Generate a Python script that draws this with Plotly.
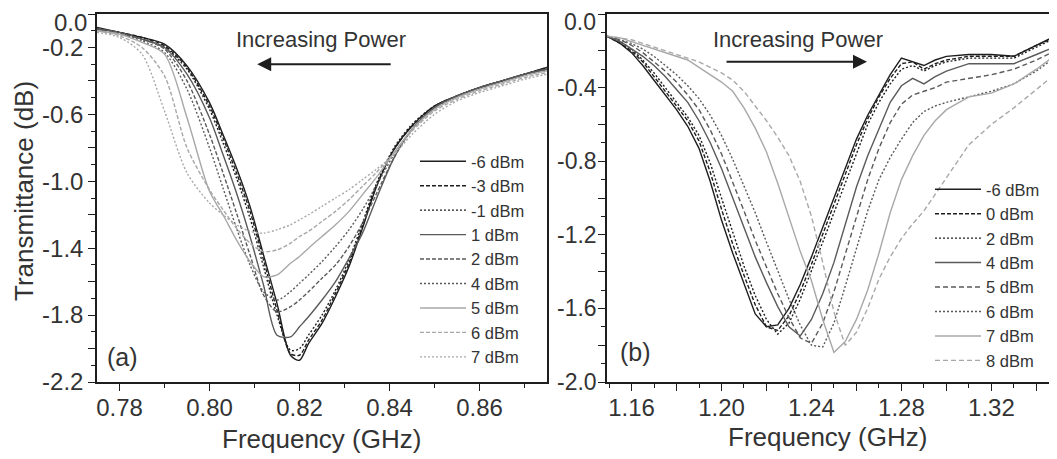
import plotly.graph_objects as go

# ---------------- data: panel (a) ----------------
freq_a = [0.775, 0.780, 0.785, 0.790, 0.795, 0.800, 0.803, 0.806, 0.809, 0.812, 0.815, 0.818, 0.820,
          0.822, 0.825, 0.828, 0.831, 0.834, 0.837, 0.841, 0.845, 0.850, 0.855, 0.860, 0.865, 0.870, 0.875]

a_m6 = [-0.08, -0.11, -0.14, -0.18, -0.31, -0.53, -0.72, -0.92, -1.15, -1.44, -1.73, -2.04, -2.07,
        -1.97, -1.85, -1.69, -1.51, -1.28, -1.04, -0.81, -0.67, -0.55, -0.49, -0.44, -0.40, -0.36, -0.32]
a_m3 = [-0.09, -0.11, -0.14, -0.19, -0.32, -0.55, -0.74, -0.95, -1.18, -1.47, -1.77, -2.03, -2.04,
        -1.95, -1.83, -1.67, -1.49, -1.27, -1.03, -0.81, -0.67, -0.55, -0.49, -0.44, -0.40, -0.36, -0.32]
a_m1 = [-0.09, -0.11, -0.15, -0.20, -0.33, -0.57, -0.77, -0.98, -1.22, -1.51, -1.80, -2.01, -2.00,
        -1.92, -1.80, -1.65, -1.47, -1.25, -1.02, -0.80, -0.66, -0.55, -0.49, -0.44, -0.40, -0.36, -0.33]
a_p1 = [-0.09, -0.11, -0.15, -0.20, -0.36, -0.62, -0.84, -1.07, -1.33, -1.62, -1.92, -1.93, -1.87,
        -1.81, -1.71, -1.60, -1.46, -1.31, -1.11, -0.86, -0.69, -0.56, -0.49, -0.44, -0.40, -0.36, -0.33]
a_p2 = [-0.09, -0.12, -0.15, -0.21, -0.40, -0.72, -0.95, -1.19, -1.44, -1.68, -1.78, -1.75, -1.71,
        -1.66, -1.58, -1.50, -1.39, -1.25, -1.08, -0.86, -0.69, -0.56, -0.49, -0.44, -0.40, -0.36, -0.33]
a_p4 = [-0.09, -0.12, -0.16, -0.23, -0.45, -0.80, -1.04, -1.28, -1.50, -1.66, -1.71, -1.66, -1.61,
        -1.56, -1.48, -1.39, -1.29, -1.17, -1.03, -0.84, -0.69, -0.56, -0.49, -0.44, -0.40, -0.36, -0.33]
a_p5 = [-0.10, -0.12, -0.17, -0.24, -0.62, -1.06, -1.20, -1.35, -1.48, -1.57, -1.56, -1.49, -1.45,
        -1.40, -1.33, -1.26, -1.18, -1.08, -0.98, -0.83, -0.69, -0.57, -0.50, -0.45, -0.41, -0.37, -0.34]
a_p6 = [-0.10, -0.13, -0.20, -0.37, -0.80, -1.05, -1.17, -1.28, -1.37, -1.42, -1.41, -1.37, -1.33,
        -1.30, -1.24, -1.18, -1.11, -1.03, -0.95, -0.83, -0.70, -0.58, -0.51, -0.46, -0.42, -0.38, -0.35]
a_p7 = [-0.11, -0.14, -0.24, -0.58, -0.95, -1.13, -1.20, -1.26, -1.30, -1.31, -1.29, -1.26, -1.23,
        -1.20, -1.15, -1.10, -1.05, -0.99, -0.93, -0.84, -0.72, -0.60, -0.52, -0.47, -0.43, -0.39, -0.36]

# ---------------- data: panel (b) ----------------
freq_b = [1.149, 1.155, 1.160, 1.165, 1.170, 1.175, 1.180, 1.185, 1.190, 1.195, 1.200, 1.205,
          1.210, 1.215, 1.220, 1.225, 1.230, 1.235, 1.240, 1.245, 1.250, 1.255, 1.260, 1.265,
          1.270, 1.275, 1.280, 1.285, 1.290, 1.295, 1.300, 1.310, 1.320, 1.330, 1.340, 1.350]

b_m6 = [-0.12, -0.16, -0.21, -0.28, -0.36, -0.44, -0.52, -0.61, -0.73, -0.91, -1.12, -1.30,
        -1.47, -1.63, -1.70, -1.69, -1.60, -1.47, -1.32, -1.16, -1.00, -0.85, -0.68, -0.55,
        -0.44, -0.33, -0.24, -0.26, -0.28, -0.25, -0.23, -0.22, -0.22, -0.23, -0.17, -0.11]
b_p0 = [-0.12, -0.16, -0.20, -0.26, -0.34, -0.42, -0.50, -0.58, -0.69, -0.86, -1.06, -1.25,
        -1.42, -1.58, -1.70, -1.72, -1.64, -1.51, -1.36, -1.20, -1.04, -0.88, -0.71, -0.57,
        -0.45, -0.35, -0.27, -0.26, -0.30, -0.27, -0.25, -0.23, -0.23, -0.23, -0.17, -0.12]
b_p2 = [-0.12, -0.15, -0.19, -0.25, -0.32, -0.40, -0.48, -0.56, -0.66, -0.81, -1.00, -1.19,
        -1.37, -1.53, -1.66, -1.74, -1.68, -1.55, -1.40, -1.24, -1.08, -0.92, -0.75, -0.60,
        -0.48, -0.38, -0.30, -0.28, -0.31, -0.28, -0.26, -0.24, -0.24, -0.24, -0.18, -0.12]
b_p4 = [-0.12, -0.15, -0.19, -0.23, -0.28, -0.34, -0.41, -0.48, -0.58, -0.70, -0.84, -1.00,
        -1.17, -1.32, -1.46, -1.59, -1.70, -1.75, -1.66, -1.52, -1.35, -1.14, -0.94, -0.77,
        -0.62, -0.48, -0.39, -0.35, -0.38, -0.34, -0.31, -0.27, -0.27, -0.27, -0.22, -0.17]
b_p5 = [-0.12, -0.14, -0.17, -0.21, -0.26, -0.31, -0.37, -0.44, -0.52, -0.63, -0.76, -0.91,
        -1.07, -1.23, -1.38, -1.52, -1.65, -1.76, -1.79, -1.68, -1.51, -1.31, -1.10, -0.90,
        -0.73, -0.59, -0.49, -0.44, -0.42, -0.40, -0.37, -0.35, -0.33, -0.30, -0.25, -0.19]
b_p6 = [-0.12, -0.14, -0.16, -0.19, -0.23, -0.28, -0.33, -0.39, -0.46, -0.55, -0.66, -0.79,
        -0.93, -1.08, -1.24, -1.40, -1.55, -1.69, -1.80, -1.81, -1.68, -1.48, -1.27, -1.07,
        -0.90, -0.78, -0.68, -0.59, -0.53, -0.50, -0.48, -0.45, -0.42, -0.38, -0.31, -0.22]
b_p7 = [-0.12, -0.13, -0.15, -0.17, -0.19, -0.21, -0.23, -0.25, -0.29, -0.33, -0.37, -0.42,
        -0.51, -0.62, -0.75, -0.92, -1.11, -1.29, -1.45, -1.66, -1.84, -1.78, -1.66, -1.50,
        -1.30, -1.08, -0.90, -0.77, -0.66, -0.58, -0.52, -0.45, -0.43, -0.38, -0.30, -0.21]
b_p8 = [-0.12, -0.13, -0.14, -0.16, -0.18, -0.20, -0.22, -0.24, -0.26, -0.29, -0.32, -0.36,
        -0.42, -0.50, -0.58, -0.67, -0.77, -0.91, -1.10, -1.35, -1.62, -1.80, -1.73, -1.60,
        -1.44, -1.32, -1.22, -1.14, -1.07, -0.98, -0.89, -0.71, -0.60, -0.51, -0.41, -0.31]

# y tick labels; the top "0.0" label is written as a separate text so it is not cut at the page edge
ytick_a = [0, -0.2, -0.4, -0.6, -0.8, -1.0, -1.2, -1.4, -1.6, -1.8, -2.0, -2.2]
ytext_a = ['', '-0.2', '', '-0.6', '', '-1.0', '', '-1.4', '', '-1.8', '', '-2.2']
ytick_b = [0, -0.2, -0.4, -0.6, -0.8, -1.0, -1.2, -1.4, -1.6, -1.8, -2.0]
ytext_b = ['', '', '-0.4', '', '-0.8', '', '-1.2', '', '-1.6', '', '-2.0']
top_label = '0.0'

# ---------------- styles ----------------
BLACK = '#1e1e1e'
DARK = '#5a5a5a'
LIGHT = '#a8a8a8'
DASH = '4px,2px'
DOT = '2px,2px'

series_a = [('-6 dBm', a_m6, BLACK, 'solid'), ('-3 dBm', a_m3, BLACK, DASH), ('-1 dBm', a_m1, BLACK, DOT),
            ('1 dBm', a_p1, DARK, 'solid'), ('2 dBm', a_p2, DARK, DASH), ('4 dBm', a_p4, DARK, DOT),
            ('5 dBm', a_p5, LIGHT, 'solid'), ('6 dBm', a_p6, LIGHT, DASH), ('7 dBm', a_p7, LIGHT, DOT)]
series_b = [('-6 dBm', b_m6, BLACK, 'solid'), ('0 dBm', b_p0, BLACK, DASH), ('2 dBm', b_p2, BLACK, DOT),
            ('4 dBm', b_p4, DARK, 'solid'), ('5 dBm', b_p5, DARK, '5px,3px'), ('6 dBm', b_p6, DARK, DOT),
            ('7 dBm', b_p7, LIGHT, 'solid'), ('8 dBm', b_p8, LIGHT, '5px,3px')]

W, H = 1057, 459
OFF = 8  # page body margin, screen px -> figure px
FONT = 'Arial, Liberation Sans, sans-serif'
TXT = '#333333'


def px(x):
    return (x - OFF) / W


def py(y):
    return 1 - (y - OFF) / H


fig = go.Figure()

for name, vals, col, dash in series_a:
    fig.add_trace(go.Scatter(x=freq_a, y=vals, mode='lines', name=name, legend='legend',
                             line=dict(color=col, width=1.4, dash=dash, shape='spline', smoothing=0.8),
                             xaxis='x', yaxis='y'))
for name, vals, col, dash in series_b:
    fig.add_trace(go.Scatter(x=freq_b, y=vals, mode='lines', name=name, legend='legend2',
                             line=dict(color=col, width=1.4, dash=dash),
                             xaxis='x2', yaxis='y2'))

dom_a = [px(97), px(547)]
dom_b = [px(607), px(1058)]
dom_y = [py(382), py(14)]
rng_a = [0.775, 0.875]
rng_b = [1.1491, 1.3496]

axline = dict(showline=True, linecolor=BLACK, linewidth=1.5, showgrid=False, zeroline=False, automargin=False,
              ticklabeloverflow='allow', tickcolor=BLACK, tickwidth=1.3,
              tickfont=dict(size=24, color=TXT, family=FONT))
inner = dict(showline=False, showgrid=False, zeroline=False, showticklabels=False, automargin=False,
             ticks='inside', ticklen=7, tickcolor=BLACK, tickwidth=1.3)

fig.update_layout(
    template='none',
    width=W, height=H, margin=dict(l=0, r=0, t=0, b=0, pad=0),
    paper_bgcolor='white', plot_bgcolor='white',
    font=dict(family=FONT, color=TXT),
    xaxis=dict(axline, domain=dom_a, range=rng_a, anchor='y', mirror=True, ticks='outside', ticklen=7,
               tick0=0.78, dtick=0.02, tickformat='.2f', ticklabelstandoff=-4,
               minor=dict(ticks='outside', ticklen=4, dtick=0.01, tick0=0.78, tickcolor=BLACK)),
    yaxis=dict(axline, domain=dom_y, range=[-2.2, 0], anchor='x', mirror=True, ticks='outside', ticklen=7,
               tickmode='array', tickvals=ytick_a, ticktext=ytext_a,
               minor=dict(ticks='outside', ticklen=4, dtick=0.1, tick0=0, tickcolor=BLACK)),
    xaxis3=dict(inner, overlaying='x', side='top', anchor='y', range=rng_a,
                tick0=0.78, dtick=0.02, minor=dict(ticks='inside', ticklen=4, dtick=0.01, tick0=0.78)),
    yaxis3=dict(inner, overlaying='y', side='right', anchor='x', range=[-2.2, 0],
                tick0=0, dtick=0.2, minor=dict(ticks='inside', ticklen=4, dtick=0.1, tick0=0)),
    xaxis2=dict(axline, domain=dom_b, range=rng_b, anchor='y2', mirror=True, ticks='outside', ticklen=7,
                tick0=1.16, dtick=0.02, ticklabelstep=2, tickformat='.2f', ticklabelstandoff=-4,
                minor=dict(ticks='outside', ticklen=4, dtick=0.01, tick0=1.16, tickcolor=BLACK)),
    yaxis2=dict(axline, domain=dom_y, range=[-2.0, 0], anchor='x2', ticks='outside', ticklen=7,
                tickmode='array', tickvals=ytick_b, ticktext=ytext_b, ticklabelstandoff=-3,
                tickfont=dict(size=23, color=TXT, family=FONT),
                minor=dict(ticks='outside', ticklen=4, dtick=0.1, tick0=0, tickcolor=BLACK)),
    xaxis4=dict(inner, overlaying='x2', side='top', anchor='y2', range=rng_b,
                tick0=1.16, dtick=0.02, minor=dict(ticks='inside', ticklen=4, dtick=0.01, tick0=1.16)),
    yaxis4=dict(inner, overlaying='y2', side='right', anchor='x2', range=[-2.0, 0],
                tick0=0, dtick=0.2, minor=dict(ticks='inside', ticklen=4, dtick=0.1, tick0=0)),
    legend=dict(x=px(415), y=py(144), xanchor='left', yanchor='top', bgcolor='rgba(0,0,0,0)',
                font=dict(size=16.5, color=TXT, family=FONT), itemwidth=46, tracegroupgap=0),
    legend2=dict(x=px(930), y=py(172), xanchor='left', yanchor='top', bgcolor='rgba(0,0,0,0)',
                 font=dict(size=16.5, color=TXT, family=FONT), itemwidth=46, tracegroupgap=0),
)

ann = []
# top "0.0" tick labels, kept inside the page
ann.append(dict(text=top_label, x=px(88), y=1, xref='paper', yref='paper', xanchor='right', yanchor='top',
                showarrow=False, borderpad=0, font=dict(size=24, color=TXT)))
ann.append(dict(text=top_label, x=px(597), y=1, xref='paper', yref='paper', xanchor='right', yanchor='top',
                showarrow=False, borderpad=0, font=dict(size=23, color=TXT)))
# axis titles
ann.append(dict(text='Frequency (GHz)', x=px(321), y=py(439), xref='paper', yref='paper',
                xanchor='center', yanchor='middle', showarrow=False, font=dict(size=26, color=TXT)))
ann.append(dict(text='Frequency (GHz)', x=px(827), y=py(437), xref='paper', yref='paper',
                xanchor='center', yanchor='middle', showarrow=False, font=dict(size=26, color=TXT)))
ann.append(dict(text='Transmittance (dB)', x=px(24), y=py(191), xref='paper', yref='paper',
                xanchor='center', yanchor='middle', showarrow=False, textangle=-90,
                font=dict(size=26, color=TXT)))
# panel labels
ann.append(dict(text='(a)', x=0.7806, y=-2.05, xref='x', yref='y', showarrow=False,
                font=dict(size=25, color=TXT)))
ann.append(dict(text='(b)', x=1.1616, y=-1.837, xref='x2', yref='y2', showarrow=False,
                font=dict(size=25, color=TXT)))
# increasing power text + arrows
ann.append(dict(text='Increasing Power', x=0.8248, y=-0.155, xref='x', yref='y', showarrow=False,
                font=dict(size=22, color=TXT)))
ann.append(dict(text='Increasing Power', x=1.234, y=-0.141, xref='x2', yref='y2', showarrow=False,
                font=dict(size=22, color=TXT)))
ann.append(dict(text='', x=0.8106, y=-0.30, xref='x', yref='y', ax=135, ay=0, showarrow=True,
                arrowhead=2, arrowsize=1.4, arrowwidth=2, arrowcolor=BLACK))
ann.append(dict(text='', x=1.2647, y=-0.26, xref='x2', yref='y2', ax=-142, ay=0, showarrow=True,
                arrowhead=2, arrowsize=1.4, arrowwidth=2, arrowcolor=BLACK))
fig.update_layout(annotations=ann)

fig.write_html("out.html")
